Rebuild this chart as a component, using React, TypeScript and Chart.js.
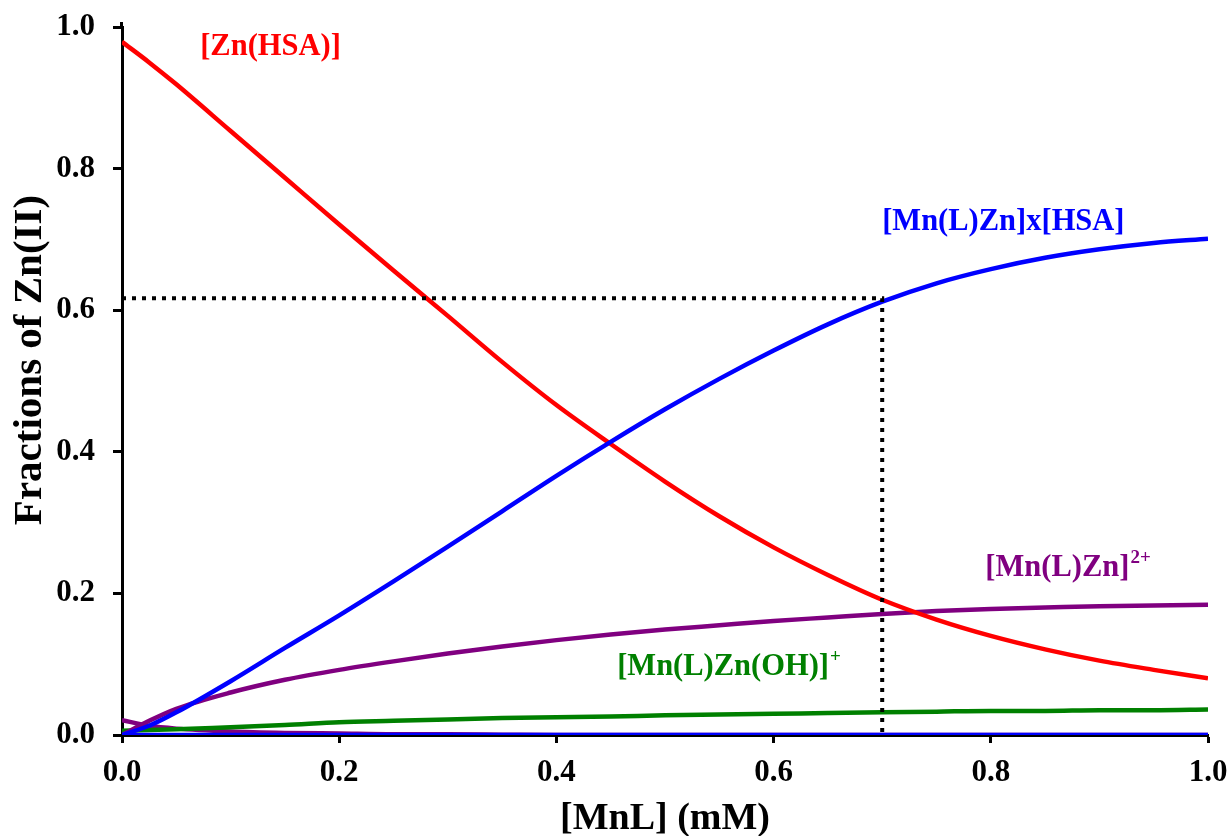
import React, { useEffect, useRef } from "react";
import { Chart, registerables } from "chart.js";

Chart.register(...registerables);

// [MnL] concentration (mM) at which each fraction is sampled
const mnlConc = [0, 0.025, 0.05, 0.1, 0.15, 0.2, 0.25, 0.3, 0.35, 0.4, 0.45, 0.5, 0.55, 0.6, 0.65, 0.7, 0.75, 0.8, 0.85, 0.9, 0.95, 1.0];

// Fractions of Zn(II) for each species
const znHsa = [0.979, 0.95, 0.919, 0.853, 0.787, 0.721, 0.656, 0.592, 0.527, 0.466, 0.411, 0.358, 0.309, 0.265, 0.226, 0.191, 0.163, 0.14, 0.121, 0.105, 0.092, 0.08];
const mnLZnHsa = [0.0, 0.013, 0.032, 0.076, 0.123, 0.169, 0.217, 0.266, 0.316, 0.366, 0.414, 0.46, 0.503, 0.543, 0.58, 0.612, 0.638, 0.658, 0.674, 0.686, 0.695, 0.701];
const mnLZn = [0.0, 0.02, 0.037, 0.06, 0.078, 0.092, 0.104, 0.115, 0.125, 0.134, 0.142, 0.149, 0.155, 0.161, 0.166, 0.171, 0.175, 0.178, 0.18, 0.182, 0.183, 0.184];
const mnLZnOh = [0.006, 0.007, 0.008, 0.011, 0.014, 0.018, 0.02, 0.022, 0.024, 0.025, 0.026, 0.028, 0.029, 0.03, 0.031, 0.032, 0.033, 0.034, 0.034, 0.035, 0.035, 0.036];
const znMinorA = [0.021, 0.013, 0.009, 0.005, 0.003, 0.002, 0.001, 0.001, 0.0005, 0, 0, 0, 0, 0, 0, 0, 0, 0, 0, 0, 0, 0];
const znMinorB = [0, 0, 0, 0, 0, 0, 0, 0, 0, 0, 0, 0, 0, 0, 0, 0, 0, 0, 0, 0, 0, 0];

// Reading guide: 0.7 mM of MnL gives ~0.617 of [Mn(L)Zn]x[HSA]
const guideX = [0, 0.7, 0.7];
const guideY = [0.617, 0.617, 0];

// Axis ticks
const xTicks = [0, 0.2, 0.4, 0.6, 0.8, 1.0];
const yTicks = [0, 0.2, 0.4, 0.6, 0.8, 1.0];

const xTitle = "[MnL] (mM)";
const yTitle = "Fractions of Zn(II)";

const RED = "#ff0000";
const BLUE = "#0000ff";
const PURPLE = "#800080";
const GREEN = "#008000";
const FONT = "'Liberation Serif', 'Times New Roman', serif";

const toPoints = (ys: number[]) => ys.map((y, i) => ({ x: mnlConc[i], y }));

// Species names written beside their curves (anchor = left/middle, in data units)
const speciesLabels = [
  { text: "[Zn(HSA)]", sup: "", x: 0.072, y: 0.972, color: RED },
  { text: "[Mn(L)Zn]x[HSA]", sup: "", x: 0.7, y: 0.725, color: BLUE },
  { text: "[Mn(L)Zn]", sup: "2+", x: 0.795, y: 0.236, color: PURPLE },
  { text: "[Mn(L)Zn(OH)]", sup: "+", x: 0.456, y: 0.096, color: GREEN },
];

const labelPlugin = {
  id: "speciesLabels",
  afterDatasetsDraw(chart: any) {
    const { ctx, scales, chartArea } = chart;
    ctx.save();

    // short run of the y axis above its last tick
    ctx.strokeStyle = "#000";
    ctx.lineWidth = 3;
    ctx.beginPath();
    ctx.moveTo(chartArea.left - 0.5, chartArea.top - 5);
    ctx.lineTo(chartArea.left - 0.5, chartArea.top + 1);
    ctx.stroke();

    ctx.textAlign = "left";
    ctx.textBaseline = "middle";
    for (const l of speciesLabels) {
      const px = scales.x.getPixelForValue(l.x);
      const py = scales.y.getPixelForValue(l.y);
      ctx.fillStyle = l.color;
      ctx.font = `bold 30.5px ${FONT}`;
      ctx.fillText(l.text, px, py);
      if (l.sup) {
        const w = ctx.measureText(l.text).width;
        ctx.font = `bold 19px ${FONT}`;
        ctx.fillText(l.sup, px + w + 1, py - 10);
      }
    }

    // axis titles
    ctx.fillStyle = "#000";
    ctx.textAlign = "center";
    ctx.font = `bold 38px ${FONT}`;
    ctx.fillText(xTitle, (chartArea.left + chartArea.right) / 2, chart.height - 17);

    ctx.translate(30, (chartArea.top + chartArea.bottom) / 2 - 21);
    ctx.rotate(-Math.PI / 2);
    ctx.font = `bold 41px ${FONT}`;
    ctx.fillText(yTitle, 0, 0);
    ctx.restore();
  },
};

export default function App() {
  const ref = useRef<HTMLCanvasElement>(null);

  useEffect(() => {
    if (!ref.current) return;
    const line = (label: string, data: number[], color: string, order: number) => ({
      label,
      data: toPoints(data),
      borderColor: color,
      backgroundColor: color,
      borderWidth: 4.5,
      pointRadius: 0,
      fill: false,
      cubicInterpolationMode: "monotone" as const,
      order,
    });

    const chart = new Chart(ref.current, {
      type: "line",
      data: {
        datasets: [
          {
            label: "guide",
            data: guideX.map((x, i) => ({ x, y: guideY[i] })),
            borderColor: "#000000",
            borderWidth: 4,
            borderDash: [4, 6],
            pointRadius: 0,
            tension: 0,
            fill: false,
            order: 1,
          },
          line("Zn(II) minor", znMinorB, BLUE, 2),
          line("[Mn(L)Zn]x[HSA]", mnLZnHsa, BLUE, 3),
          line("[Zn(HSA)]", znHsa, RED, 4),
          line("[Mn(L)Zn]2+", mnLZn, PURPLE, 5),
          line("[Mn(L)Zn(OH)]+", mnLZnOh, GREEN, 6),
          line("Zn(II) free", znMinorA, PURPLE, 7),
        ],
      },
      options: {
        animation: false,
        responsive: true,
        maintainAspectRatio: false,
        layout: { padding: { left: 0, top: 27, right: 22, bottom: 0 } },
        plugins: {
          legend: { display: false },
          tooltip: { enabled: false },
        },
        scales: {
          x: {
            type: "linear",
            min: 0,
            max: 1,
            afterFit: (s: any) => {
              s.height = 101;
              s.paddingLeft = 0;
              s.paddingRight = 0;
            },
            afterBuildTicks: (s: any) => {
              s.ticks = xTicks.map((value) => ({ value }));
            },
            ticks: {
              color: "#000",
              font: { family: FONT, size: 31, weight: "bold" },
              padding: 11,
              maxRotation: 0,
              autoSkip: false,
              callback: (v: any) => Number(v).toFixed(1),
            },
            grid: {
              drawOnChartArea: false,
              drawTicks: true,
              tickLength: 8,
              tickWidth: 3,
              tickColor: "#000",
            },
            border: { display: true, color: "#000", width: 3 },
          },
          y: {
            type: "linear",
            min: 0,
            max: 1,
            afterFit: (s: any) => {
              s.width = 122;
              s.paddingTop = 0;
              s.paddingBottom = 0;
            },
            afterBuildTicks: (s: any) => {
              s.ticks = yTicks.map((value) => ({ value }));
            },
            ticks: {
              color: "#000",
              font: { family: FONT, size: 31, weight: "bold" },
              padding: 18,
              callback: (v: any) => Number(v).toFixed(1),
            },
            grid: {
              drawOnChartArea: false,
              drawTicks: true,
              tickLength: 9,
              tickWidth: 3,
              tickColor: "#000",
            },
            border: { display: true, color: "#000", width: 3 },
          },
        },
      },
      plugins: [labelPlugin],
    });
    return () => chart.destroy();
  }, []);

  return (
    <div style={{ position: "fixed", left: 0, top: 0, width: 1230, height: 836, background: "#ffffff" }}>
      <canvas ref={ref} />
    </div>
  );
}
